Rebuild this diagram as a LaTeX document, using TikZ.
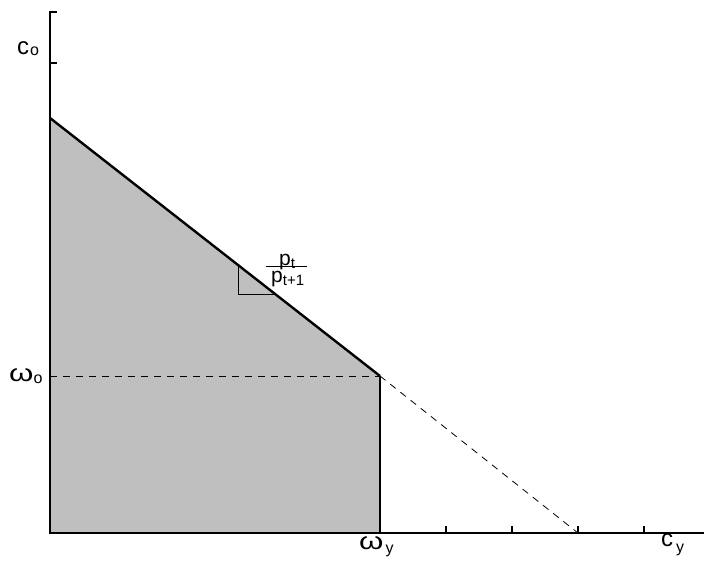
\documentclass[tikz,border=0pt]{standalone}
\usepackage{fontspec}
\setmainfont{Liberation Sans}
\newcommand{\lsub}[2]{\raisebox{-#1pt}{\fontsize{16}{16}\selectfont #2}}
\newcommand{\psub}[1]{\raisebox{-3pt}{\fontsize{15}{15}\selectfont #1}}
\newcommand{\bigw}{\scalebox{1.3}[1]{ω}}
\begin{document}
\begin{tikzpicture}[x=1pt,y=-1pt,
  axis/.style={line width=2.6pt},
  budget/.style={line width=2.4pt},
  tickmark/.style={line width=1.8pt},
  guide/.style={line width=0.8pt,dash pattern=on 7pt off 6pt},
  lab/.style={font=\fontsize{24}{26}\selectfont,inner sep=0pt,anchor=base west},
  plab/.style={font=\fontsize{21}{22}\selectfont,inner sep=0pt,anchor=base west}]
\useasboundingbox (0,0) rectangle (704,560);
\coordinate (O) at (50,533);
\coordinate (A) at (50,118);
\coordinate (K) at (380,376);
\coordinate (Ky) at (380,533);
\coordinate (Ko) at (50,376);
\coordinate (E) at (578,533);
\coordinate (Ytop) at (50,12);
\coordinate (Xend) at (704,533);
\fill[black!25] (A) -- (K) -- (Ky) -- (O) -- cycle;
\draw[guide] (Ko) -- (K);
\draw[guide] (K) -- (E);
% slope triangle
\coordinate (T1) at (238,265);
\coordinate (T2) at (238,294);
\coordinate (T3) at (275,294);
\draw[line width=0.8pt] (T1) -- (T2) -- (T3);
\draw[budget] (A) -- (K);
\draw[axis] (K) -- (Ky);
% axes
\draw[axis,line cap=rect] (Ytop) -- (O) -- (Xend);
\draw[tickmark] (Ytop) -- ++(7,0);
\draw[tickmark] (50,63) -- ++(7,0);
\foreach \x in {446,512,578,644} \draw[tickmark] (\x,533) -- ++(0,-7);
% labels
\node[lab] (co) at (17,54) {c\kern1pt\lsub{1}{o}};
\node[lab] (wo) at (9,381) {\bigw\lsub{2}{o}};
\node[lab] (wy) at (359,549) {\bigw\kern2pt\lsub{4}{y}};
\node[lab] (cy) at (661,546) {c\kern3pt\lsub{6}{y}};
\node[plab] (pt) at (279,265) {p\psub{t}};
\coordinate (R1) at (266,266);
\coordinate (R2) at (307,266);
\draw[line width=0.9pt] (R1) -- (R2);
\node[plab] (pt1) at (271,282) {p\psub{t+1}};
\end{tikzpicture}
\end{document}
